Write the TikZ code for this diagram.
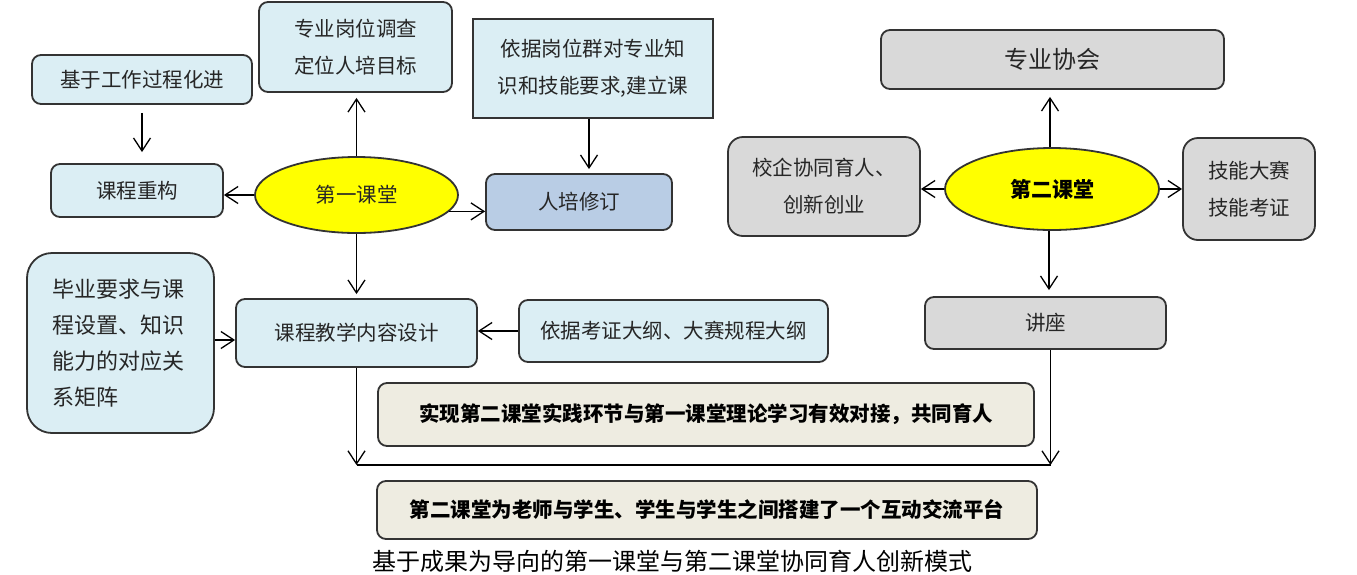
\documentclass[tikz,border=0pt]{standalone}
\usepackage{fontspec}
\setmainfont{Noto Sans CJK SC}
\usetikzlibrary{arrows.meta,shapes.geometric,calc}
\definecolor{lblue}{HTML}{DBEEF4}
\definecolor{mblue}{HTML}{B9CDE5}
\definecolor{lgray}{HTML}{D9D9D9}
\definecolor{beige}{HTML}{EEECE1}
\definecolor{bord}{HTML}{333333}
\definecolor{ylw}{HTML}{FFFF00}
\begin{document}
\begin{tikzpicture}[x=1pt,y=-1pt,
  box/.style={draw=bord, line width=1.8pt, rounded corners=9pt, align=center, inner sep=0pt,
    font=\fontsize{20.5}{37}\selectfont, text=black!85},
  bluebox/.style={box, fill=lblue},
  graybox/.style={box, fill=lgray},
  beigebox/.style={box, fill=beige, font=\fontsize{20.5}{37}\selectfont\bfseries, text=black},
  ell/.style={ellipse, draw=bord, line width=1.8pt, fill=ylw, inner sep=0pt,
    font=\fontsize{20.5}{25}\selectfont, text=black!85},
  arr/.style={line width=1.3pt, -{Straight Barb[length=13pt,width=17pt]}},
  plain/.style={line width=1.3pt}
]
\useasboundingbox (0,0) rectangle (1357,574);
% left part
\node[bluebox, minimum width=220pt, minimum height=49pt] (A) at (142,79.5) {基于工作过程化进};
\node[bluebox, minimum width=193pt, minimum height=90pt] (B) at (355.5,47) {专业岗位调查\\定位人培目标};
\node[bluebox, sharp corners, minimum width=240pt, minimum height=99pt] (C) at (593,68.5) {依据岗位群对专业知\\识和技能要求,建立课};
\node[bluebox, minimum width=172pt, minimum height=53pt] (D) at (137,190.5) {课程重构};
\node[ell, minimum width=203pt, minimum height=76pt] (E) at (356.5,195) {第一课堂};
\node[box, fill=mblue, minimum width=186pt, minimum height=56pt] (F) at (579,202) {人培修订};
\node[bluebox, rounded corners=25pt, minimum width=187pt, minimum height=180pt, text width=136pt, align=left,
  font=\fontsize{22}{36}\selectfont] (G) at (120.5,343) {毕业要求与课\\程设置、知识\\能力的对应关\\系矩阵};
\node[bluebox, minimum width=241pt, minimum height=68pt] (H) at (356.5,333) {课程教学内容设计};
\node[bluebox, minimum width=309pt, minimum height=62pt] (I) at (673.5,331) {依据考证大纲、大赛规程大纲};
\node[beigebox, minimum width=656pt, minimum height=63pt] (J) at (706,414.5) {实现第二课堂实践环节与第一课堂理论学习有效对接，共同育人};
\node[beigebox, minimum width=660pt, minimum height=58pt] (K) at (707,510) {第二课堂为老师与学生、学生与学生之间搭建了一个互动交流平台};
\node[font=\fontsize{24}{28}\selectfont, text=black, inner sep=0pt] (cap) at (672,561) {基于成果为导向的第一课堂与第二课堂协同育人创新模式};
% right part
\node[graybox, font=\fontsize{24}{30}\selectfont, minimum width=343pt, minimum height=59pt] (L) at (1052.5,59.5) {专业协会};
\node[graybox, rounded corners=15pt, minimum width=192pt, minimum height=99pt] (M) at (824,186.5) {校企协同育人、\\创新创业};
\node[ell, minimum width=214pt, minimum height=82pt, font=\fontsize{21}{25}\selectfont\bfseries, text=black] (N) at (1052,189) {第二课堂};
\node[graybox, rounded corners=15pt, minimum width=132pt, minimum height=102pt] (O) at (1249,189) {技能大赛\\技能考证};
\node[graybox, minimum width=241pt, minimum height=52pt] (P) at (1045.5,323) {讲座};
% junction points
\coordinate (jl) at (356.5,465);
\coordinate (jr) at (1050.5,465);
% arrows left
\draw[arr, shorten <=8pt, shorten >=11pt] (A.south) -- (A.south |- D.north);
\draw[arr, shorten >=5pt] (E.north) -- (E.north |- B.south);
\draw[arr, shorten >=4pt] ([xshift=-4pt]C.south) -- ([xshift=-4pt]C.south |- F.north);
\draw[arr] (E.west) -- (E.west -| D.east);
\draw[arr] (E.-10) -- (E.-10 -| F.west);
\draw[arr, shorten >=4pt] (E.south) -- (E.south |- H.north);
\draw[arr] ([yshift=3pt]G.east) -- ([yshift=3pt]G.east -| H.west);
\draw[arr] (I.west) -- (I.west -| H.east);
\draw[arr] (H.south) -- (jl);
\draw[plain] (jl) -- (jr);
% arrows right
\draw[arr, shorten >=7pt] ([xshift=-2pt]N.north) -- ([xshift=-2pt]N.north |- L.south);
\draw[arr] (N.west) -- (N.west -| M.east);
\draw[arr] (N.east) -- (N.east -| O.west);
\draw[arr, shorten >=6pt] ([xshift=-3pt]N.south) -- ([xshift=-3pt]N.south |- P.north);
\draw[arr] (P.south -| jr) -- (jr);
\end{tikzpicture}
\end{document}
